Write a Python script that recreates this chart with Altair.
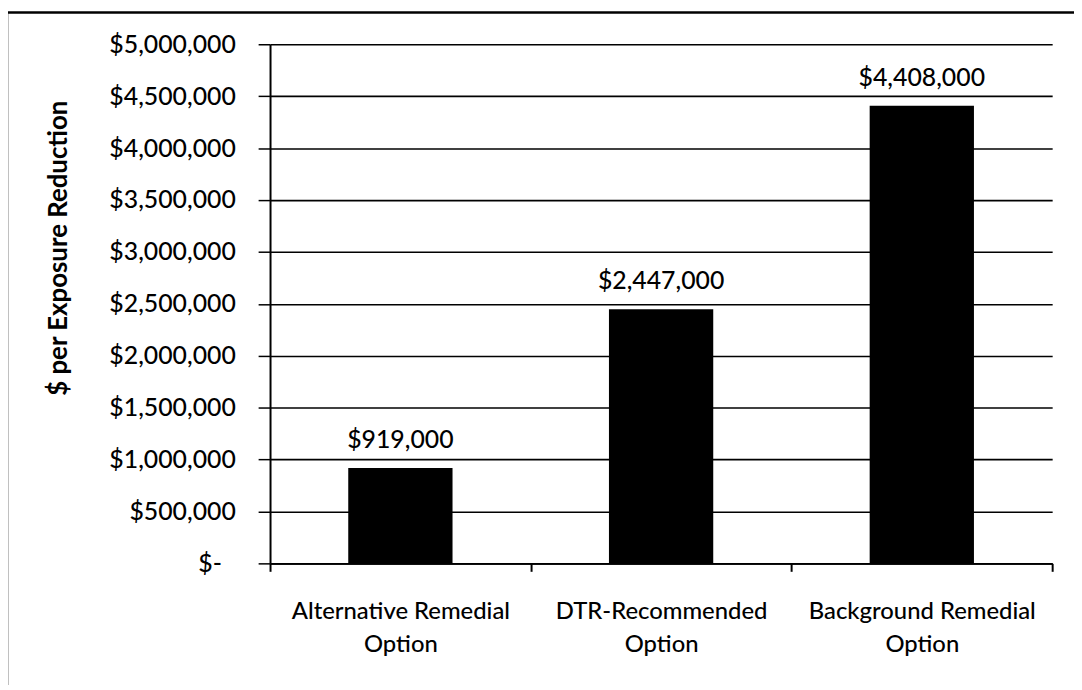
import altair as alt
import pandas as pd

categories = ["Alternative Remedial Option", "DTR-Recommended Option", "Background Remedial Option"]
values = [919000, 2447000, 4408000]
value_labels = ["$919,000", "$2,447,000", "$4,408,000"]
y_ticks = [0, 500000, 1000000, 1500000, 2000000, 2500000, 3000000, 3500000, 4000000, 4500000, 5000000]

df = pd.DataFrame({"cat": categories, "val": values, "lab": value_labels})

FONT = "Lato"
W, H = 788, 523

x_enc = alt.X(
    "cat:N",
    sort=categories,
    scale=alt.Scale(paddingInner=0, paddingOuter=0),
    axis=alt.Axis(
        title=None,
        labelAngle=0,
        labelFont=FONT,
        labelFontSize=24,
        labelFontWeight=500,
        labelColor="black",
        labelLineHeight=33,
        labelPadding=29,
        labelLimit=0,
        labelExpr="datum.label ? [replace(datum.label, ' Option', ''), 'Option'] : ''",
        tickBand="extent",
        tickSize=8,
        tickColor="black",
        tickWidth=2,
        domainColor="black",
        domainWidth=2,
        grid=False,
    ),
)

y_enc = alt.Y(
    "val:Q",
    scale=alt.Scale(domain=[0, 5000000]),
    axis=alt.Axis(
        title="$ per Exposure Reduction",
        titleFont=FONT,
        titleFontSize=26,
        titleFontWeight="bold",
        titleColor="black",
        titleAngle=270,
        titleX=-213,
        titleY=205,
        titleAlign="center",
        titleBaseline="middle",
        values=y_ticks,
        labelExpr="datum.value == 0 ? '$-' : format(datum.value, '$,')",
        labelFont=FONT,
        labelFontSize=25,
        labelFontWeight=500,
        labelColor="black",
        labelPadding={"condition": {"test": "datum.value === 0", "value": 37}, "value": 23},
        tickSize=12,
        tickColor="black",
        tickWidth=1.5,
        domainColor="black",
        domainWidth=2,
        grid=True,
        gridColor="black",
        gridWidth=1.6,
        gridOpacity=1,
    ),
)

bars = alt.Chart(df).mark_bar(color="black", width={"band": 0.4}).encode(x=x_enc, y=y_enc)

texts = alt.Chart(df).mark_text(
    font=FONT, fontSize=25, fontWeight=500, color="black", baseline="middle", dy=-28
).encode(x=alt.X("cat:N", sort=categories), y=alt.Y("val:Q"), text="lab:N")

frame_df = pd.DataFrame({"a": [0]})
left_border = alt.Chart(frame_df).mark_rule(color="black", strokeWidth=2.5).encode(
    x=alt.value(-265), y=alt.value(-32), y2=alt.value(H + 130)
)
top_border = alt.Chart(frame_df).mark_rule(color="black", strokeWidth=2.5).encode(
    x=alt.value(-265), x2=alt.value(W + 30), y=alt.value(-32)
)

chart = alt.layer(bars, texts, left_border, top_border).properties(
    width=W,
    height=H,
    padding={"left": 264, "top": 34, "right": 22, "bottom": 120},
    autosize=alt.AutoSizeParams(type="none"),
    background="white",
).configure_view(strokeWidth=0)

chart.save("out.html", embed_options={"renderer": "svg", "actions": False})
